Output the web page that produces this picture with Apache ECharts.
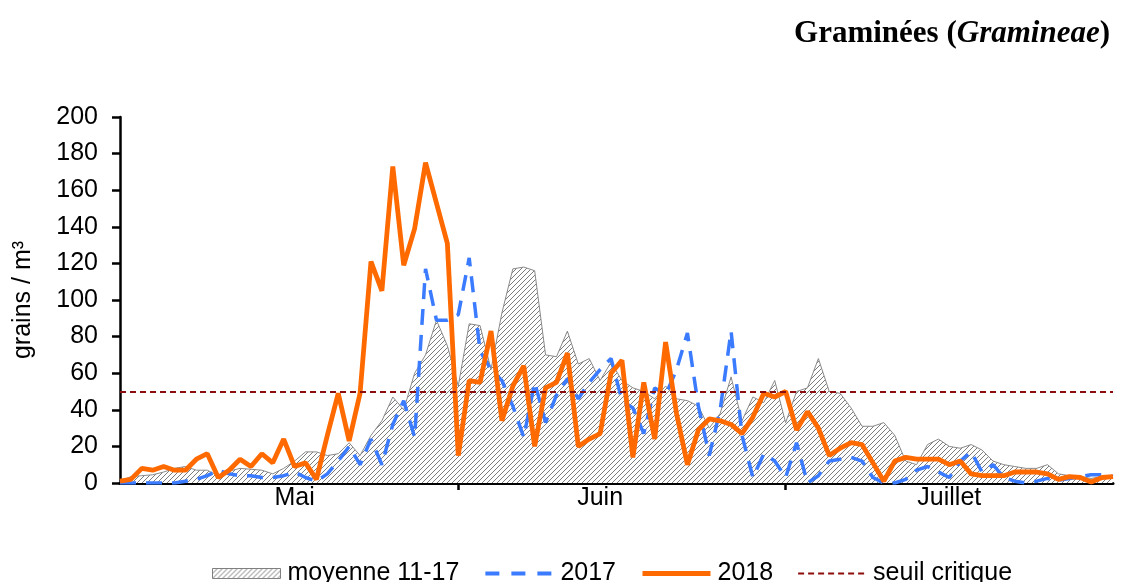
<!DOCTYPE html>
<html>
<head>
<meta charset="utf-8">
<script src="https://cdn.jsdelivr.net/npm/echarts@6/dist/echarts.min.js"></script>
<style>
html,body{margin:0;padding:0;background:#fff;}
#chart{width:1121px;height:582px;}
</style>
</head>
<body>
<div id="chart"></div>
<script>
// ---- data (daily values, 1 May -> 31 July) ----
const monthNames = ['Mai', 'Juin', 'Juillet'];
const monthLengths = [31, 30, 31];
const categories = [];
monthLengths.forEach((len, m) => { for (let d = 1; d <= len; d++) categories.push(d + ' ' + monthNames[m]); });

const yTicks = [0, 20, 40, 60, 80, 100, 120, 140, 160, 180, 200];

const moyenne = [1, 3.5, 4, 4.5, 6, 8, 9, 7, 7, 4,
  6.5, 8, 7.5, 7, 5, 8, 12, 17, 17, 15,
  16, 22, 15, 26, 34, 47, 40, 60, 70, 89,
  75, 53, 87, 86, 62, 93, 117, 118, 116, 70,
  69, 83, 65, 68, 56, 66, 56, 52, 50, 46,
  53, 46, 45, 42, 30, 38, 58, 34, 47, 44,
  56, 33, 50, 52, 68, 50, 49, 41, 31, 31,
  33, 26, 12, 10, 21, 24, 20, 19, 21, 18,
  12, 10, 9, 8, 8, 10, 5, 4, 3.5, 2.5,
  3.5, 3.5];

const y2017 = [0, 0, 0, 0, 0, 0, 1, 2, 4, 7,
  5, 4, 4, 3, 3, 4, 6, 3, 1, 5,
  12, 20, 10, 24, 10, 32, 45, 25, 117, 89,
  89, 92, 123, 72, 62, 56, 42, 25, 55, 33,
  48, 57, 46, 55, 62, 68, 45, 41, 27, 52,
  48, 62, 82, 42, 15, 40, 83, 26, 3, 16,
  12, 3, 22, 0, 4, 12, 13, 14, 12, 3,
  0, 0, 2, 7, 9, 6, 3, 12, 17, 6,
  10, 3, 1, 0, 1, 2.5, 1.5, 2.5, 3.5, 4.5,
  4.5, 3.5];

const y2018 = [1, 2, 8, 7, 9, 7, 7, 13, 16, 3,
  7, 13, 9, 16, 11, 24, 9, 11, 2, 26,
  49, 23, 49, 121, 105, 173, 119, 139, 175, 153,
  131, 15, 56, 55, 83, 34, 53, 64, 20, 52,
  55, 71, 20, 24, 27, 60, 67, 14, 55, 24,
  77, 38, 10, 29, 35, 34, 32, 27, 36, 49,
  47, 50, 29, 39, 30, 15, 19, 22, 21, 11,
  1, 12, 14, 13, 13, 13, 10, 12, 5, 4,
  4, 4, 6, 6, 6, 5, 2, 3.5, 3, 0.5,
  3, 3.5];

const seuilCritique = 50;
const seriesNames = ['moyenne 11-17', '2017', '2018', 'seuil critique'];

// ---- hatch pattern ----
function makeHatch() {
  const n = 5;
  const c = document.createElement('canvas');
  c.width = n; c.height = n;
  const g = c.getContext('2d');
  g.fillStyle = '#ffffff';
  g.fillRect(0, 0, n, n);
  g.strokeStyle = '#7c7c7c';
  g.lineWidth = 1;
  g.beginPath();
  g.moveTo(-1, n + 1); g.lineTo(n + 1, -1);
  g.moveTo(-1, 1); g.lineTo(1, -1);
  g.moveTo(n - 1, n + 1); g.lineTo(n + 1, n - 1);
  g.stroke();
  return c;
}
const hatch = { image: makeHatch(), repeat: 'repeat' };

// month boundaries (first day of June / July) and label anchors
const tickIdx = [31, 61];
const labelIdx = { 16: 'Mai', 44: 'Juin', 76: 'Juillet' };

const font = 'Liberation Sans, Arial, sans-serif';
const serif = 'Liberation Serif, Times New Roman, serif';
const noSymbol = { opacity: 0 };
const c2017 = '#3a7bff', c2018 = '#ff6a00', cSeuil = '#8b0d0d';
const dash2017 = [16, 10], dashSeuil = [6, 4];
const chart = echarts.init(document.getElementById('chart'), null, { renderer: 'canvas' });
chart.setOption({
  animation: false,
  backgroundColor: '#ffffff',
  title: {
    right: 6, top: 13,
    text: '{b|Graminées (}{i|Gramineae}{b|)}',
    textStyle: {
      rich: {
        b: { fontFamily: serif, fontWeight: 'bold', fontSize: 31, color: '#000' },
        i: { fontFamily: serif, fontWeight: 'bold', fontStyle: 'italic', fontSize: 31, color: '#000' }
      }
    }
  },
  grid: { left: 120, right: 8, top: 117, bottom: 99, containLabel: false },
  legend: {
    left: 207, top: 556,
    itemWidth: 68, itemHeight: 10, itemGap: 24,
    textStyle: { fontFamily: font, fontSize: 25, color: '#000', padding: [0, 0, 0, 2] },
    data: [
      { name: seriesNames[0], icon: 'rect', itemStyle: { color: hatch, borderColor: '#808080', borderWidth: 1 } },
      { name: seriesNames[1], itemStyle: noSymbol, lineStyle: { color: c2017, width: 4, type: [14, 12] } },
      { name: seriesNames[2], itemStyle: noSymbol, lineStyle: { color: c2018, width: 5 } },
      { name: seriesNames[3], itemStyle: noSymbol, lineStyle: { color: cSeuil, width: 2, type: dashSeuil } }
    ]
  },
  xAxis: {
    type: 'category',
    data: categories,
    boundaryGap: false,
    axisLine: { lineStyle: { color: '#000', width: 3 } },
    axisTick: { show: true, inside: false, length: 7, lineStyle: { color: '#000', width: 2.5 },
      interval: (i) => tickIdx.indexOf(i) >= 0 },
    axisLabel: { interval: (i) => labelIdx[i] !== undefined, formatter: (v, i) => labelIdx[i] || '',
      fontFamily: font, fontSize: 25, color: '#000', margin: 3 },
    splitLine: { show: false }
  },
  yAxis: {
    type: 'value', min: yTicks[0], max: yTicks[yTicks.length - 1], interval: yTicks[1] - yTicks[0],
    name: 'grains / m³', nameLocation: 'middle', nameGap: 84,
    nameTextStyle: { fontFamily: font, fontSize: 25, color: '#000' },
    axisLine: { show: true, lineStyle: { color: '#000', width: 2.5 } },
    axisTick: { show: true, inside: false, length: 8, lineStyle: { color: '#000', width: 2.5 } },
    axisLabel: { fontFamily: font, fontSize: 25, color: '#000', margin: 22 },
    splitLine: { show: false }
  },
  series: [
    {
      name: seriesNames[0], type: 'line', data: moyenne, symbol: 'none', z: 1,
      itemStyle: { color: '#8a8a8a' },
      lineStyle: { color: '#8a8a8a', width: 1 },
      areaStyle: { color: hatch, opacity: 1 }
    },
    {
      name: seriesNames[1], type: 'line', data: y2017, symbol: 'none', z: 3,
      itemStyle: { color: c2017 },
      lineStyle: { color: c2017, width: 3.5, type: dash2017 }
    },
    {
      name: seriesNames[2], type: 'line', data: y2018, symbol: 'none', z: 4,
      itemStyle: { color: c2018 },
      lineStyle: { color: c2018, width: 4.8 }
    },
    {
      name: seriesNames[3], type: 'line', data: [], symbol: 'none', z: 2,
      itemStyle: { color: cSeuil },
      lineStyle: { color: cSeuil, width: 2, type: dashSeuil },
      markLine: {
        silent: true, symbol: 'none', label: { show: false },
        lineStyle: { color: cSeuil, width: 2, type: dashSeuil },
        data: [{ yAxis: seuilCritique }]
      }
    }
  ]
});
</script>
</body>
</html>
